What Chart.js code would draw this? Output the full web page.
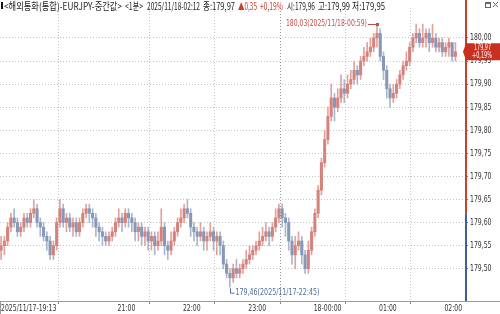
<!DOCTYPE html>
<html>
<head>
<meta charset="utf-8">
<script src="https://cdn.jsdelivr.net/npm/chart.js@4"></script>
<style>
html, body { margin: 0; padding: 0; background: #fff; }
#wrap { width: 500px; height: 314px; }
</style>
</head>
<body>
<div id="wrap"><canvas id="chart" width="500" height="314"></canvas></div>
<script>
// 종목 정보
const symbolName = '<해외통화(통합)-EURJPY-중간값>';
const periodName = '<1분>';
const lastTime = '2025/11/18-02:12';
const prevClose = 179.62;
const highTime = '2025/11/18-00:59';
const lowTime = '2025/11/17-22:45';

// x축 눈금 (19:13 부터 경과 분)
const tickMinutes = [0, 107, 167, 227, 287, 347, 407];
const tickLabels = ['2025/11/17-19:13', '21:00', '22:00', '23:00', '18-00:00', '01:00', '02:00'];
const minutesPerBar = 3;

// 시가 / 고가 / 저가 / 종가 (3분 단위로 읽은 값)
const opens = [
  179.54, 179.55, 179.56, 179.59, 179.61, 179.60, 179.58, 179.59, 179.61, 179.60,
  179.62, 179.63, 179.60, 179.59, 179.57, 179.56, 179.53, 179.55, 179.60, 179.63,
  179.60, 179.61, 179.59, 179.60, 179.58, 179.60, 179.62, 179.63, 179.62, 179.61,
  179.59, 179.58, 179.57, 179.56, 179.57, 179.58, 179.60, 179.61, 179.60, 179.62,
  179.61, 179.60, 179.58, 179.59, 179.57, 179.58, 179.56, 179.57, 179.55, 179.56,
  179.59, 179.55, 179.54, 179.56, 179.58, 179.60, 179.61, 179.63, 179.62, 179.59,
  179.58, 179.57, 179.58, 179.56, 179.57, 179.58, 179.56, 179.57, 179.55, 179.51,
  179.49, 179.48, 179.50, 179.49, 179.50, 179.51, 179.52, 179.53, 179.54, 179.55,
  179.56, 179.57, 179.58, 179.57, 179.59, 179.61, 179.63, 179.61, 179.60, 179.56,
  179.53, 179.55, 179.56, 179.53, 179.50, 179.54, 179.58, 179.62, 179.67, 179.73,
  179.78, 179.83, 179.87, 179.85, 179.87, 179.89, 179.88, 179.90, 179.91, 179.93,
  179.92, 179.95, 179.96, 179.97, 179.98, 180.00, 180.01, 179.96, 179.93, 179.89,
  179.87, 179.88, 179.90, 179.92, 179.94, 179.95, 179.98, 180.00, 180.01, 179.99,
  180.00, 180.01, 179.99, 180.00, 179.98, 179.99, 179.97, 179.98, 179.99, 179.96
];
const highs = [
  179.57, 179.57, 179.60, 179.62, 179.63, 179.61, 179.60, 179.62, 179.62, 179.63,
  179.65, 179.64, 179.61, 179.60, 179.58, 179.57, 179.56, 179.61, 179.65, 179.64,
  179.62, 179.62, 179.61, 179.61, 179.61, 179.63, 179.64, 179.64, 179.63, 179.62,
  179.60, 179.59, 179.58, 179.58, 179.59, 179.61, 179.63, 179.62, 179.63, 179.63,
  179.62, 179.61, 179.60, 179.60, 179.59, 179.59, 179.58, 179.58, 179.58, 179.63,
  179.60, 179.56, 179.58, 179.59, 179.61, 179.63, 179.64, 179.65, 179.63, 179.60,
  179.59, 179.60, 179.59, 179.58, 179.60, 179.59, 179.58, 179.58, 179.56, 179.52,
  179.50, 179.51, 179.52, 179.51, 179.52, 179.54, 179.55, 179.55, 179.56, 179.58,
  179.59, 179.60, 179.59, 179.60, 179.63, 179.64, 179.64, 179.62, 179.61, 179.57,
  179.57, 179.58, 179.57, 179.54, 179.56, 179.59, 179.63, 179.68, 179.74, 179.80,
  179.85, 179.90, 179.88, 179.89, 179.92, 179.91, 179.92, 179.93, 179.95, 179.94,
  179.96, 179.98, 179.99, 180.00, 180.01, 180.03, 180.02, 179.97, 179.94, 179.90,
  179.90, 179.91, 179.93, 179.95, 179.97, 179.99, 180.01, 180.03, 180.02, 180.03,
  180.02, 180.02, 180.03, 180.01, 180.00, 180.00, 179.99, 180.00, 179.99, 179.99
];
const lows = [
  179.52, 179.53, 179.55, 179.58, 179.59, 179.57, 179.57, 179.58, 179.59, 179.59,
  179.61, 179.59, 179.57, 179.56, 179.54, 179.52, 179.52, 179.54, 179.59, 179.59,
  179.58, 179.58, 179.57, 179.57, 179.57, 179.59, 179.61, 179.60, 179.59, 179.57,
  179.56, 179.55, 179.55, 179.55, 179.56, 179.57, 179.59, 179.58, 179.59, 179.59,
  179.58, 179.56, 179.56, 179.55, 179.55, 179.54, 179.54, 179.53, 179.54, 179.55,
  179.53, 179.52, 179.53, 179.55, 179.57, 179.59, 179.60, 179.61, 179.57, 179.56,
  179.55, 179.56, 179.54, 179.54, 179.56, 179.54, 179.53, 179.53, 179.50, 179.48,
  179.46, 179.47, 179.48, 179.48, 179.49, 179.50, 179.51, 179.52, 179.53, 179.54,
  179.55, 179.56, 179.55, 179.56, 179.58, 179.60, 179.59, 179.57, 179.54, 179.51,
  179.50, 179.54, 179.51, 179.49, 179.49, 179.53, 179.57, 179.61, 179.66, 179.72,
  179.77, 179.82, 179.82, 179.84, 179.86, 179.86, 179.87, 179.89, 179.90, 179.90,
  179.91, 179.94, 179.95, 179.96, 179.97, 179.98, 179.95, 179.91, 179.87, 179.85,
  179.86, 179.87, 179.89, 179.91, 179.93, 179.94, 179.97, 179.99, 179.98, 179.98,
  179.98, 179.97, 179.98, 179.97, 179.97, 179.96, 179.96, 179.96, 179.95, 179.95
];
const closes = [
  179.55, 179.56, 179.59, 179.61, 179.60, 179.58, 179.59, 179.61, 179.60, 179.62,
  179.63, 179.60, 179.59, 179.57, 179.56, 179.53, 179.55, 179.60, 179.63, 179.60,
  179.61, 179.59, 179.60, 179.58, 179.60, 179.62, 179.63, 179.62, 179.61, 179.59,
  179.58, 179.57, 179.56, 179.57, 179.58, 179.60, 179.61, 179.60, 179.62, 179.61,
  179.60, 179.58, 179.59, 179.57, 179.58, 179.56, 179.57, 179.55, 179.56, 179.59,
  179.55, 179.54, 179.56, 179.58, 179.60, 179.61, 179.63, 179.62, 179.59, 179.58,
  179.57, 179.58, 179.56, 179.57, 179.58, 179.56, 179.57, 179.55, 179.51, 179.49,
  179.48, 179.50, 179.49, 179.50, 179.51, 179.52, 179.53, 179.54, 179.55, 179.56,
  179.57, 179.58, 179.57, 179.59, 179.61, 179.63, 179.61, 179.60, 179.56, 179.53,
  179.55, 179.56, 179.53, 179.50, 179.54, 179.58, 179.62, 179.67, 179.73, 179.78,
  179.83, 179.87, 179.85, 179.87, 179.89, 179.88, 179.90, 179.91, 179.93, 179.92,
  179.95, 179.96, 179.97, 179.98, 180.00, 180.01, 179.96, 179.93, 179.89, 179.87,
  179.88, 179.90, 179.92, 179.94, 179.95, 179.98, 180.00, 180.01, 179.99, 180.00,
  180.01, 179.99, 180.00, 179.98, 179.99, 179.97, 179.98, 179.99, 179.96, 179.97
];

const UP = '#d4827c', UP_WICK = '#e0a29d';
const DOWN = '#8797b7', DOWN_WICK = '#a9b6cc';
const RED = '#c9402f', BLUE = '#3e5f9c';
const GRID = '#c4c4c4';
const narrowFont = "'DejaVu Sans Condensed', 'DejaVu Sans', sans-serif";

const fmt = v => v.toFixed(2).replace('.', ',');
const barX = i => i * minutesPerBar + 1;

const wickData = closes.map((c, i) => ({ x: barX(i), y: [lows[i], highs[i]] }));
const bodyData = closes.map((c, i) => ({ x: barX(i), y: [opens[i], c] }));
const isUp = closes.map((c, i) => c >= opens[i]);

// 글자를 지정한 폭에 맞춰 가로로 눌러서 그림
function fitText(ctx, text, x, y, w, color, font, align) {
    ctx.save();
    ctx.font = font;
    ctx.fillStyle = color;
    ctx.textBaseline = 'middle';
    ctx.textAlign = 'left';
    const m = ctx.measureText(text).width;
    ctx.translate(align === 'right' ? x - w : x, y);
    ctx.scale(w / m, 1);
    ctx.fillText(text, 0, 0);
    ctx.restore();
}

// 축 글자를 좁게 (원본 차트의 좁은 글꼴 흉내)
const narrowTicks = {
    id: 'narrowTicks',
    beforeDraw(chart) {
        Object.values(chart.scales).forEach(s => {
            if (s._narrow) return;
            const draw = s.drawLabels;
            s.drawLabels = function (area) {
                const ctx = this.ctx;
                const fill = ctx.fillText;
                ctx.fillText = function (t, x, y) {
                    this.save();
                    this.translate(x, y);
                    this.scale(0.76, 1);
                    fill.call(this, t, 0, 0);
                    this.restore();
                };
                draw.call(this, area);
                ctx.fillText = fill;
            };
            s._narrow = true;
        });
    }
};

const overlay = {
    id: 'overlay',
    afterDraw(chart) {
        const { ctx, chartArea: a, scales: { x, y } } = chart;
        const n = closes.length - 1;
        const lastC = closes[n];
        const chg = lastC - prevClose;
        const pct = chg / prevClose * 100;

        // 아래 테두리
        ctx.save();
        ctx.strokeStyle = '#9a9a9a';
        ctx.lineWidth = 1;
        ctx.beginPath();
        ctx.moveTo(0, a.bottom + 0.5);
        ctx.lineTo(500, a.bottom + 0.5);
        ctx.moveTo(0.5, a.bottom);
        ctx.lineTo(0.5, 314);
        ctx.stroke();

        // 오른쪽 가격축 선 (전일종가 기준 위 빨강 / 아래 파랑)
        const yPrev = y.getPixelForValue(prevClose);
        ctx.lineWidth = 2;
        ctx.strokeStyle = RED;
        ctx.beginPath();
        ctx.moveTo(a.right + 1, 0);
        ctx.lineTo(a.right + 1, yPrev);
        ctx.stroke();
        ctx.strokeStyle = BLUE;
        ctx.beginPath();
        ctx.moveTo(a.right + 1, yPrev);
        ctx.lineTo(a.right + 1, a.bottom);
        ctx.stroke();

        // 현재가 표시
        const yC = y.getPixelForValue(lastC);
        ctx.fillStyle = '#c8311f';
        ctx.beginPath();
        ctx.moveTo(a.right - 2, yC);
        ctx.lineTo(a.right + 1, yC - 8.5);
        ctx.lineTo(500, yC - 8.5);
        ctx.lineTo(500, yC + 8.5);
        ctx.lineTo(a.right + 1, yC + 8.5);
        ctx.closePath();
        ctx.fill();
        ctx.restore();
        fitText(ctx, fmt(lastC), 474, yC - 4, 17, '#fff', '8px ' + narrowFont);
        fitText(ctx, '+' + fmt(pct) + '%', 472, yC + 4, 20, '#fff', '8px ' + narrowFont);

        // 최고가 표시
        let hi = 0, lo = 0;
        highs.forEach((v, i) => { if (v > highs[hi]) hi = i; });
        lows.forEach((v, i) => { if (v < lows[lo]) lo = i; });
        const hx = x.getPixelForValue(barX(hi)), hy = y.getPixelForValue(highs[hi]);
        ctx.save();
        ctx.strokeStyle = '#c0504a';
        ctx.fillStyle = '#c0504a';
        ctx.lineWidth = 1;
        ctx.beginPath();
        ctx.moveTo(hx - 9, Math.round(hy) + 0.5);
        ctx.lineTo(hx, Math.round(hy) + 0.5);
        ctx.stroke();
        ctx.fillRect(hx - 1, Math.round(hy) - 1, 3, 3);
        ctx.restore();
        fitText(ctx, fmt(highs[hi]) + '(' + highTime + ')', hx - 10, hy, 81, '#c0504a', '9px ' + narrowFont, 'right');

        // 최저가 표시
        const lx = Math.round(x.getPixelForValue(barX(lo))) + 0.5, ly = y.getPixelForValue(lows[lo]);
        ctx.save();
        ctx.strokeStyle = '#4f6f9f';
        ctx.lineWidth = 1;
        ctx.beginPath();
        ctx.moveTo(lx, ly + 1);
        ctx.lineTo(lx, ly + 6);
        ctx.lineTo(lx + 4, ly + 6);
        ctx.stroke();
        ctx.restore();
        fitText(ctx, fmt(lows[lo]) + '(' + lowTime + ')', lx + 5, ly + 5.5, 84, '#4f6f9f', '9px ' + narrowFont);

        // 상단 제목줄
        ctx.fillStyle = '#111';
        ctx.fillRect(1, 2, 2, 7);
        const hf = "10px 'Noto Sans CJK KR', sans-serif";
        const segs = [
            [symbolName, 4, 118, '#222'],
            [periodName, 125, 18, '#222'],
            [lastTime, 147, 53, '#222'],
            ['종:' + fmt(lastC), 203, 32, '#222'],
            ['▲' + fmt(chg), 238, 19, RED],
            ['+' + fmt(pct) + '%', 260, 23, RED],
            ['시:' + fmt(opens[n]), 287, 28, '#222'],
            ['고:' + fmt(highs[n]), 318, 32, '#222'],
            ['저:' + fmt(lows[n]), 352, 33, '#222']
        ];
        segs.forEach(s => fitText(ctx, s[0], s[1], 6, s[2], s[3], hf));

        // 오른쪽 위 창 단추
        ctx.save();
        ctx.strokeStyle = '#666';
        ctx.lineWidth = 1;
        ctx.strokeRect(485.5, 2.5, 5, 5);
        ctx.fillStyle = '#666';
        ctx.fillRect(485, 2, 6, 2);
        ctx.beginPath();
        ctx.moveTo(493, 2); ctx.lineTo(498, 7);
        ctx.moveTo(498, 2); ctx.lineTo(493, 7);
        ctx.stroke();
        ctx.restore();
    }
};

Chart.defaults.font.family = narrowFont;

new Chart(document.getElementById('chart'), {
    type: 'bar',
    data: {
        datasets: [
            {
                label: 'body',
                data: bodyData,
                backgroundColor: isUp.map(u => u ? UP : DOWN),
                barThickness: 2.4,
                minBarLength: 1,
                grouped: false,
                order: 0
            },
            {
                label: 'wick',
                data: wickData,
                backgroundColor: isUp.map(u => u ? UP_WICK : DOWN_WICK),
                barThickness: 1,
                grouped: false,
                order: 1
            }
        ]
    },
    options: {
        responsive: false,
        animation: false,
        layout: { padding: { top: 8, left: 0, right: 0, bottom: 0 } },
        plugins: { legend: { display: false }, tooltip: { enabled: false } },
        scales: {
            x: {
                type: 'linear',
                min: 0,
                max: 426.8,
                offset: false,
                afterBuildTicks: s => { s.ticks = tickMinutes.map(v => ({ value: v })); },
                afterFit: s => { s.height = 13; },
                ticks: {
                    autoSkip: false,
                    maxRotation: 0,
                    align: 'start',
                    padding: -1,
                    labelOffset: 1,
                    color: '#333',
                    font: { size: 9 },
                    callback: (v, i) => tickLabels[i]
                },
                grid: {
                    color: c => (c.tick && c.tick.value === 287) ? '#999' : GRID,
                    tickLength: 3,
                    tickColor: '#888'
                },
                border: { display: false, dash: [1, 2] }
            },
            y: {
                position: 'right',
                min: 179.43,
                max: 180.065,
                afterBuildTicks: s => {
                    s.ticks = s.ticks.filter(t => Math.abs(t.value * 20 - Math.round(t.value * 20)) < 1e-6);
                },
                afterFit: s => { s.width = 35; },
                ticks: {
                    stepSize: 0.05,
                    padding: 2,
                    color: '#333',
                    font: { size: 9 },
                    callback: v => fmt(v)
                },
                grid: { color: GRID, tickLength: 3, tickColor: '#777' },
                border: { display: false, dash: [1, 2] }
            }
        }
    },
    plugins: [narrowTicks, overlay]
});
</script>
</body>
</html>
